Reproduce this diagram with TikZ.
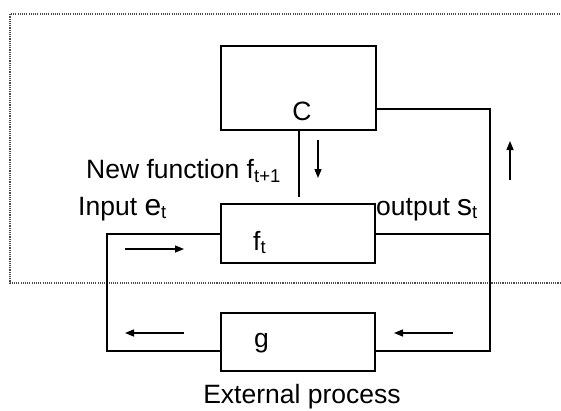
\documentclass[tikz,border=0pt]{standalone}
\usepackage{fontspec}
\setmainfont{Liberation Sans}
\usetikzlibrary{arrows.meta,calc}
\begin{document}
\begin{tikzpicture}[x=1pt,y=-1pt,
  box/.style={draw,line width=2.6pt,inner sep=0pt},
  wire/.style={line width=2.4pt},
  flow/.style={line width=1.4pt,-{Triangle[length=9pt,width=7pt]}},
  frame/.style={line width=1.1pt,black!70,dash pattern=on 1.1pt off 1.1pt},
  txt/.style={inner sep=0pt,font=\fontsize{26.5}{30}\selectfont}]
\useasboundingbox (0,0) rectangle (561,410);
% dotted frame
\coordinate (ftl) at (10,14);
\coordinate (ftr) at (562,14);
\coordinate (fbl) at (10,283);
\coordinate (fbr) at (562,283);
\draw[frame] (ftr) -- (ftl) -- (fbl) -- (fbr);
% boxes
\node[box,minimum width=155pt,minimum height=84pt] (C) at (298.5,88) {};
\node[box,minimum width=154pt,minimum height=59pt] (F) at (298,233.5) {};
\node[box,minimum width=154pt,minimum height=58pt] (G) at (298,342) {};
\node[txt] (Clab) at (302,111) {C};
\node[txt,anchor=base west] (Flab) at (253,250) {f\textsubscript{t}};
\node[txt,anchor=base west] (Glab) at (254,347) {g};
% corner coordinates
\coordinate (rt) at (490,109);
\coordinate (rb) at (490,351);
\coordinate (lt) at (107,234);
\coordinate (lb) at (107,351);
\coordinate (ro) at (490,234);
\coordinate (cend) at (299,197);
% wires
\draw[wire] ([yshift=-21pt]C.east) -- (rt) -- (rb) -- ([yshift=-9pt]G.east);
\draw[wire] ([yshift=-9pt]G.west) -- (lb) -- (lt) -- ([yshift=-0.5pt]F.west);
\draw[wire] ([yshift=-0.5pt]F.east) -- (ro);
\draw[wire] (C.south -| cend) -- (cend);
% texts
\node[txt,anchor=base west] (nf) at (86,178) {New function f\textsubscript{t+1}};
\node[txt,anchor=base west] (inp) at (78,215) {Input {\fontsize{30}{30}\selectfont e}\textsubscript{t}};
\node[txt,anchor=base west,fill=white,inner ysep=2pt] (outp) at (376,215) {output {\fontsize{30}{30}\selectfont s}\textsubscript{t}};
\node[txt,anchor=base] (ext) at (302,403) {External process};
% arrows
\coordinate (a1s) at (318,140); \coordinate (a1e) at (318,178);
\coordinate (a2s) at (510,180); \coordinate (a2e) at (510,141);
\coordinate (a3s) at (125,249); \coordinate (a3e) at (184,249);
\coordinate (a4s) at (184,333); \coordinate (a4e) at (125,333);
\coordinate (a5s) at (453,333); \coordinate (a5e) at (394,333);
\draw[flow] (a1s) -- (a1e);
\draw[flow] (a2s) -- (a2e);
\draw[flow] (a3s) -- (a3e);
\draw[flow] (a4s) -- (a4e);
\draw[flow] (a5s) -- (a5e);
\end{tikzpicture}
\end{document}
